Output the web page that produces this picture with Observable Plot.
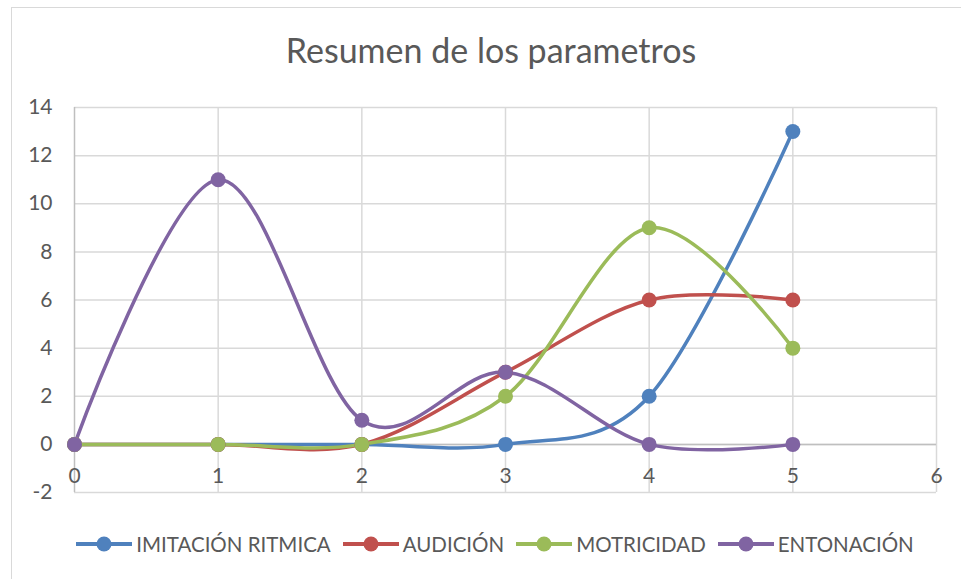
<!DOCTYPE html>
<html>
<head>
<meta charset="utf-8">
<script src="https://cdn.jsdelivr.net/npm/d3@7"></script>
<script src="https://cdn.jsdelivr.net/npm/@observablehq/plot@0.6"></script>
<style>
  html, body { margin: 0; padding: 0; background: #fff; }
  #wrap { position: relative; width: 961px; height: 579px; overflow: hidden; font-family: Lato, "Open Sans", sans-serif; color: #595959; }
  #frame { position: absolute; left: 11px; top: 7px; width: 980px; height: 600px; border: 1.5px solid #d9d9d9; box-sizing: border-box; }
  #title { position: absolute; left: 0; width: 982px; top: 29px; text-align: center; font-size: 34px; color: #595959; }
  #chart { position: absolute; left: 0; top: 90px; }
  #legend { position: absolute; left: 0; width: 990px; top: 532px; display: flex; justify-content: center; gap: 12px; font-size: 20.5px; }
  .item { display: flex; align-items: center; gap: 4px; }
</style>
</head>
<body>
<div id="wrap">
  <div id="frame"></div>
  <div id="title">Resumen de los parametros</div>
  <div id="chart"></div>
  <div id="legend"></div>
</div>
<script>
const xValues = [0, 1, 2, 3, 4, 5];
const seriesNames = ["IMITACIÓN RITMICA", "AUDICIÓN", "MOTRICIDAD", "ENTONACIÓN"];
const imitacion = [0, 0, 0, 0, 2, 13];
const audicion = [0, 0, 0, 3, 6, 6];
const motricidad = [0, 0, 0, 2, 9, 4];
const entonacion = [0, 11, 1, 3, 0, 0];
const colors = ["#4F81BD", "#C0504D", "#9BBB59", "#8064A2"];
const yTicks = [-2, 0, 2, 4, 6, 8, 10, 12, 14];
const xTicks = [0, 1, 2, 3, 4, 5, 6];

const allSeries = [imitacion, audicion, motricidad, entonacion];
const data = [];
allSeries.forEach((vals, i) => vals.forEach((v, j) => data.push({x: xValues[j], y: v, s: seriesNames[i]})));

const curve = d3.curveCardinal.tension(0);

const chart = Plot.plot({
  width: 961,
  height: 420,
  marginLeft: 74,
  marginRight: 25,
  marginTop: 17,
  marginBottom: 18,
  style: {fontFamily: "Lato, 'Open Sans', sans-serif", fontSize: "21px", color: "#595959", background: "transparent"},
  x: {domain: [0, 6], axis: null},
  y: {domain: [-2, 14], axis: null},
  color: {domain: seriesNames, range: colors},
  marks: [
    Plot.ruleY(yTicks, {stroke: "#d9d9d9", strokeWidth: 1.5}),
    Plot.ruleX(xTicks.slice(1), {y1: -2, y2: 14, stroke: "#d9d9d9", strokeWidth: 1.5}),
    Plot.ruleX([0], {y1: -2, y2: 14, stroke: "#bfbfbf", strokeWidth: 1.5}),
    Plot.ruleY([0], {stroke: "#bfbfbf", strokeWidth: 1.5}),
    Plot.text(yTicks, {x: 0, y: d => d, text: d => String(d), textAnchor: "end", dx: -22, fill: "#595959", fontSize: 21}),
    Plot.text(xTicks, {x: d => d, y: 0, text: d => String(d), dy: 32, fill: "#595959", fontSize: 21}),
    Plot.line(data, {x: "x", y: "y", z: "s", stroke: "s", strokeWidth: 3.5, curve}),
    Plot.dot(data, {x: "x", y: "y", fill: "s", r: 7.5})
  ]
});
document.getElementById("chart").appendChild(chart);

const legend = document.getElementById("legend");
seriesNames.forEach((name, i) => {
  const item = document.createElement("div");
  item.className = "item";
  item.innerHTML = `<svg width="56" height="20"><line x1="0" y1="10" x2="56" y2="10" stroke="${colors[i]}" stroke-width="4"/><circle cx="28" cy="10" r="7.5" fill="${colors[i]}"/></svg><span>${name}</span>`;
  legend.appendChild(item);
});
</script>
</body>
</html>
